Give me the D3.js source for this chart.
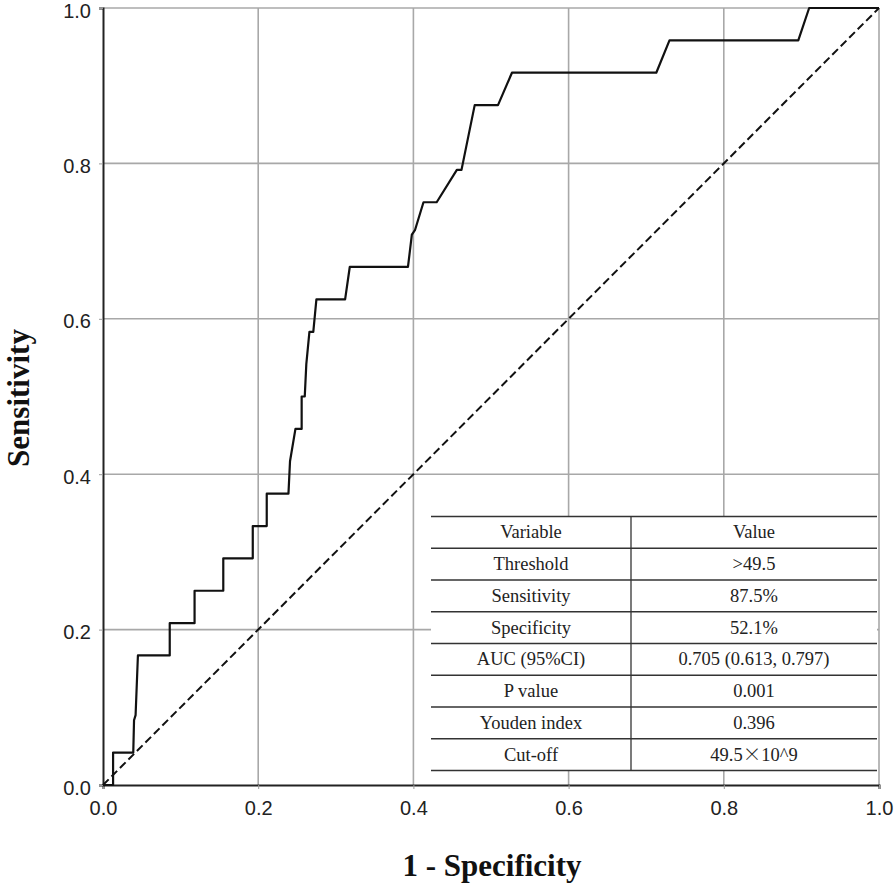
<!DOCTYPE html>
<html>
<head>
<meta charset="utf-8">
<script src="https://cdn.jsdelivr.net/npm/d3@7"></script>
<style>
  html, body { margin: 0; padding: 0; background: #fff; }
</style>
</head>
<body>
<svg id="chart" width="896" height="888"></svg>
<script>
// ROC curve points: 1 - specificity (fpr) and sensitivity (tpr)
const fpr = [0, 0.013, 0.013, 0.039, 0.040, 0.042, 0.045, 0.086, 0.086, 0.118, 0.118, 0.155, 0.155, 0.193, 0.193, 0.200, 0.211, 0.211, 0.239, 0.241, 0.248, 0.250, 0.256, 0.256, 0.260, 0.262, 0.266, 0.271, 0.275, 0.312, 0.318, 0.393, 0.398, 0.402, 0.413, 0.430, 0.456, 0.462, 0.479, 0.509, 0.527, 0.713, 0.730, 0.896, 0.910, 1.0];
const tpr = [0, 0, 0.0417, 0.0417, 0.0833, 0.0900, 0.1667, 0.1667, 0.2083, 0.2083, 0.25, 0.25, 0.2917, 0.2917, 0.3333, 0.3333, 0.3333, 0.375, 0.375, 0.4167, 0.4583, 0.4583, 0.4583, 0.5, 0.5, 0.5417, 0.5833, 0.5833, 0.625, 0.625, 0.6667, 0.6667, 0.7083, 0.714, 0.75, 0.75, 0.7917, 0.7917, 0.875, 0.875, 0.9167, 0.9167, 0.9583, 0.9583, 1.0, 1.0];
const refLine = [0, 1];
const tickValues = [0, 0.2, 0.4, 0.6, 0.8, 1.0];
const tableVariables = ["Variable", "Threshold", "Sensitivity", "Specificity", "AUC (95%CI)", "P value", "Youden index", "Cut-off"];
const tableValues = ["Value", ">49.5", "87.5%", "52.1%", "0.705 (0.613, 0.797)", "0.001", "0.396", "49.5\u00D710^9"];
const xTitle = "1 - Specificity";
const yTitle = "Sensitivity";

const svg = d3.select("#chart");
const margin = { left: 103, top: 8, right: 17, bottom: 103 };
const W = 896 - margin.left - margin.right;
const H = 888 - margin.top - margin.bottom;
const g = svg.append("g").attr("transform", `translate(${margin.left},${margin.top})`);

const x = d3.scaleLinear().domain([0, 1]).range([0, W]);
const y = d3.scaleLinear().domain([0, 1]).range([H, 0]);

// grid
g.append("g").selectAll("line").data(tickValues.slice(1)).join("line")
  .attr("x1", d => x(d)).attr("x2", d => x(d)).attr("y1", 0).attr("y2", H)
  .attr("stroke", "#a8a8a8").attr("stroke-width", 1.6);
g.append("g").selectAll("line").data(tickValues.slice(1)).join("line")
  .attr("x1", 0).attr("x2", W).attr("y1", d => y(d)).attr("y2", d => y(d))
  .attr("stroke", "#a8a8a8").attr("stroke-width", 1.6);

// axes
const sans = "Liberation Sans, Arial, sans-serif";
const serif = "Liberation Serif, Times New Roman, serif";
const xAxis = g.append("g").attr("transform", `translate(0,${H})`)
  .call(d3.axisBottom(x).tickValues(tickValues).tickFormat(d3.format(".1f")).tickSize(4).tickPadding(12));
const yAxis = g.append("g")
  .call(d3.axisLeft(y).tickValues(tickValues).tickFormat(d3.format(".1f")).tickSize(4).tickPadding(8));
[xAxis, yAxis].forEach(a => {
  a.select(".domain").attr("stroke", "#222").attr("stroke-width", 2);
  a.selectAll(".tick line").attr("stroke", "#999");
  a.selectAll(".tick text").attr("font-family", sans)
    .attr("font-size", 20).attr("fill", "#222");
});
yAxis.selectAll(".tick text").attr("dy", "0.45em");

// reference diagonal
g.append("line")
  .attr("x1", x(refLine[0])).attr("y1", y(refLine[0]))
  .attr("x2", x(refLine[1])).attr("y2", y(refLine[1]))
  .attr("stroke", "#111").attr("stroke-width", 2).attr("stroke-dasharray", "8,4");

// ROC curve
const pts = fpr.map((f, i) => [f, tpr[i]]);
g.append("path").datum(pts)
  .attr("d", d3.line().x(d => x(d[0])).y(d => y(d[1])))
  .attr("fill", "none").attr("stroke", "#111").attr("stroke-width", 2.2)
  .attr("stroke-linejoin", "round");

// table
const tLeft = 431, tRight = 877, tTop = 516.5, rowH = 31.75, tDiv = 631;
const nRows = tableVariables.length;
svg.append("rect").attr("x", tLeft).attr("y", tTop).attr("width", tRight - tLeft).attr("height", rowH * nRows)
  .attr("fill", "#fff");
svg.append("g").selectAll("line").data(d3.range(nRows + 1)).join("line")
  .attr("x1", tLeft).attr("x2", tRight)
  .attr("y1", i => tTop + i * rowH).attr("y2", i => tTop + i * rowH)
  .attr("stroke", "#333").attr("stroke-width", 1.3);
svg.append("line").attr("x1", tDiv).attr("x2", tDiv).attr("y1", tTop).attr("y2", tTop + rowH * nRows)
  .attr("stroke", "#333").attr("stroke-width", 1.3);
const tg = svg.append("g").attr("font-family", serif)
  .attr("font-size", 18.5).attr("fill", "#222").attr("text-anchor", "middle");
tg.selectAll("text.var").data(tableVariables).join("text").attr("class", "var")
  .attr("x", (tLeft + tDiv) / 2).attr("y", (d, i) => tTop + i * rowH + rowH / 2 + 6)
  .text(d => d);
tg.selectAll("text.val").data(tableValues).join("text").attr("class", "val")
  .attr("x", (tDiv + tRight) / 2).attr("y", (d, i) => tTop + i * rowH + rowH / 2 + 6)
  .each(function (d) {
    const parts = d.split("\u00D7");
    const t = d3.select(this);
    parts.forEach((p, k) => {
      if (k > 0) t.append("tspan").attr("font-family", "Noto Sans CJK SC").attr("font-weight", 300).text("\u00D7");
      t.append("tspan").text(p);
    });
  });

// titles
svg.append("text").attr("x", margin.left + W / 2 + 1).attr("y", 876)
  .attr("text-anchor", "middle").attr("font-family", serif)
  .attr("font-weight", "bold").attr("font-size", 31).attr("fill", "#111").text(xTitle);
svg.append("text").attr("transform", `translate(29,${398}) rotate(-90)`)
  .attr("text-anchor", "middle").attr("font-family", serif)
  .attr("font-weight", "bold").attr("font-size", 31).attr("fill", "#111").text(yTitle);
</script>
</body>
</html>
